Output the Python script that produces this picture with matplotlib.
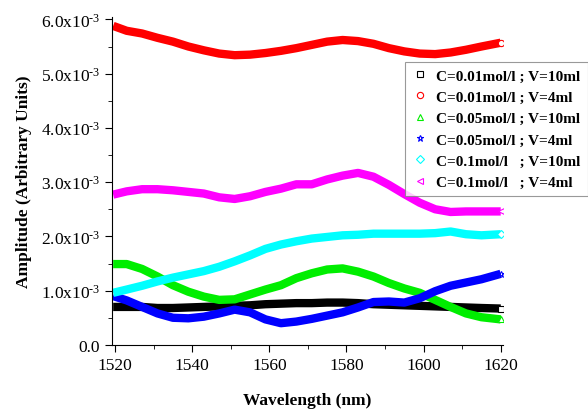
import matplotlib
matplotlib.use("Agg")
import matplotlib.pyplot as plt
from matplotlib.ticker import MultipleLocator, FuncFormatter

plt.rcParams['font.family'] = ['Liberation Serif', 'DejaVu Serif']
plt.rcParams['mathtext.fontset'] = 'custom'
plt.rcParams['mathtext.rm'] = 'Liberation Serif'
plt.rcParams['mathtext.default'] = 'regular'

# wavelength grid (nm)
wavelength = [1519.5, 1523, 1527, 1531, 1535, 1539, 1543, 1547, 1551, 1555,
              1559, 1563, 1567, 1571, 1575, 1579, 1583, 1587, 1591, 1595,
              1599, 1603, 1607, 1611, 1615, 1620]

# amplitudes in units of 1e-3
c001_v10 = [0.70, 0.70, 0.70, 0.68, 0.68, 0.69, 0.70, 0.71, 0.72, 0.73,
            0.75, 0.76, 0.77, 0.77, 0.78, 0.78, 0.77, 0.75, 0.74, 0.73,
            0.72, 0.71, 0.70, 0.69, 0.68, 0.67]
c001_v4 = [5.88, 5.79, 5.74, 5.66, 5.59, 5.50, 5.43, 5.37, 5.34, 5.35,
           5.38, 5.42, 5.47, 5.53, 5.59, 5.62, 5.60, 5.55, 5.47, 5.41,
           5.37, 5.36, 5.39, 5.44, 5.50, 5.57]
c005_v10 = [1.49, 1.49, 1.40, 1.26, 1.10, 0.98, 0.89, 0.83, 0.84, 0.93,
            1.02, 1.10, 1.23, 1.32, 1.39, 1.41, 1.35, 1.26, 1.14, 1.04,
            0.96, 0.83, 0.70, 0.58, 0.51, 0.47]
c005_v4 = [0.90, 0.82, 0.70, 0.58, 0.50, 0.49, 0.52, 0.58, 0.65, 0.60,
           0.47, 0.40, 0.43, 0.48, 0.54, 0.60, 0.69, 0.79, 0.80, 0.78,
           0.86, 0.99, 1.09, 1.15, 1.21, 1.31]
c01_v10 = [0.96, 1.02, 1.09, 1.17, 1.24, 1.30, 1.36, 1.44, 1.54, 1.65,
           1.77, 1.85, 1.91, 1.96, 1.99, 2.02, 2.03, 2.05, 2.05, 2.05,
           2.05, 2.06, 2.09, 2.04, 2.02, 2.04]
c01_v4 = [2.77, 2.83, 2.87, 2.87, 2.85, 2.82, 2.79, 2.72, 2.69, 2.74,
          2.82, 2.88, 2.96, 2.96, 3.05, 3.12, 3.17, 3.10, 2.95, 2.78,
          2.62, 2.50, 2.45, 2.46, 2.46, 2.46]

series = [
    (c001_v10, 'black', 's', 'C=0.01mol/l ; V=10ml'),
    (c001_v4, 'red', 'o', 'C=0.01mol/l ; V=4ml'),
    (c005_v10, '#00ee00', '^', 'C=0.05mol/l ; V=10ml'),
    (c005_v4, 'blue', '*', 'C=0.05mol/l ; V=4ml'),
    (c01_v10, 'cyan', 'D', 'C=0.1mol/l   ; V=10ml'),
    (c01_v4, 'magenta', '<', 'C=0.1mol/l   ; V=4ml'),
]

fig = plt.figure(figsize=(5.88, 4.14), dpi=100)
ax = fig.add_axes([0.1905, 0.1645, 0.665, 0.7915])

handles = []
for vals, col, mk, lab in series:
    y = [v * 1e-3 for v in vals]
    ax.plot(wavelength, y, color=col, lw=6, solid_capstyle='butt')
    h, = ax.plot(wavelength[-1:], y[-1:], ls='none', marker=mk, ms=4.5,
                 mfc='white', mec=col, mew=0.8, label=lab)
    handles.append(h)

ax.set_xlim(1519.2, 1620.6)
ax.set_ylim(0, 6.04e-3)
ax.spines['top'].set_visible(False)
ax.spines['right'].set_visible(False)
ax.xaxis.set_major_locator(MultipleLocator(20))
ax.xaxis.set_minor_locator(MultipleLocator(10))
ax.yaxis.set_major_locator(MultipleLocator(1e-3))
ax.yaxis.set_minor_locator(MultipleLocator(0.5e-3))


def fmt(v, pos):
    if abs(v) < 1e-9:
        return '0.0'
    return '%.1fx10$^{\\text{-3}}$' % (v * 1e3)


ax.yaxis.set_major_formatter(FuncFormatter(fmt))
ax.tick_params(which='major', direction='out', length=5, labelsize=12.5)
ax.tick_params(which='minor', direction='out', length=3)

ax.set_xlabel('Wavelength (nm)', fontsize=12.5, fontweight='bold', labelpad=14)
ax.set_ylabel('Amplitude (Arbitrary Units)', fontsize=12.5, fontweight='bold', labelpad=6)

leg = fig.legend(handles=handles, loc='upper left', bbox_to_anchor=(0.689, 0.848),
                 prop={'weight': 'bold', 'size': 11}, frameon=True, fancybox=False,
                 edgecolor='gray', handlelength=1.0, handletextpad=0.6,
                 labelspacing=0.5, borderpad=0.45, borderaxespad=0)
leg.get_frame().set_linewidth(0.8)

fig.savefig('out.png', dpi=100)
